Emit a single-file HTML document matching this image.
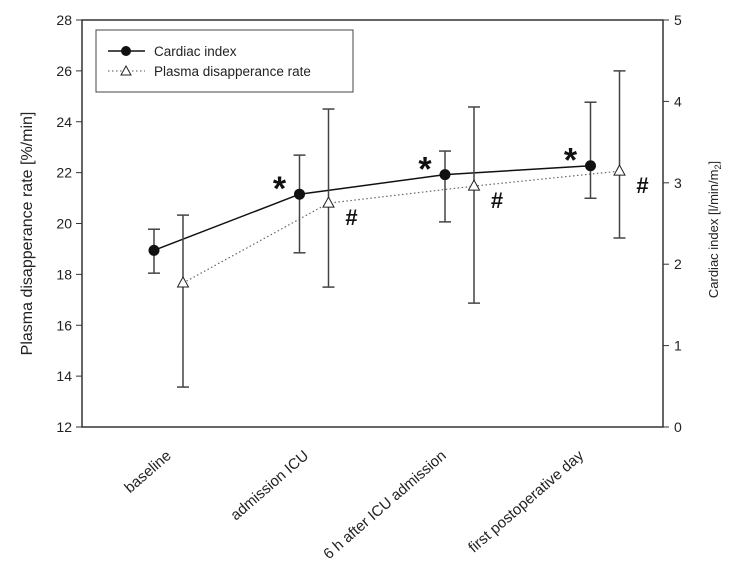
<!DOCTYPE html>
<html><head><meta charset="utf-8"><style>
body{margin:0;background:#fff}
svg{display:block;font-family:"Liberation Sans",Arial,sans-serif}
</style></head><body>
<svg id="chart" width="738" height="573" viewBox="0 0 738 573">
<g id="axes"></g>
<g id="marks"></g>
<g>
<rect x="96" y="30" width="257" height="62" fill="#fff" stroke="#444" stroke-width="1"/>
<line x1="108" y1="51" x2="145" y2="51" stroke="#111" stroke-width="1.5"/>
<circle cx="126" cy="51" r="5" fill="#111"/>
<text x="154" y="56" font-size="13.5" fill="#222">Cardiac index</text>
<line x1="108" y1="71" x2="145" y2="71" stroke="#555" stroke-width="1" stroke-dasharray="1.5,2.5"/>
<path d="M126,66 L131,75 L121,75 Z" fill="#fff" stroke="#222"/>
<text x="154" y="76" font-size="13.5" fill="#222">Plasma disapperance rate</text>
</g>
</svg>
<script>
const categories=["baseline","admission ICU","6 h after ICU admission","first postoperative day"];
const ciValues=[2.17,2.86,3.10,3.21];
const ciUpper=[2.43,3.34,3.39,3.99];
const ciLower=[1.89,2.14,2.52,2.81];
const pdrValues=[17.66,20.8,21.47,22.06];
const pdrUpper=[20.33,24.5,24.58,26.0];
const pdrLower=[13.57,17.5,16.87,19.43];
const leftTicks=[12,14,16,18,20,22,24,26,28];
const rightTicks=[0,1,2,3,4,5];
const NS="http://www.w3.org/2000/svg";
const L=82,R=663,T=20,B=427;
const yL=v=>B-(v-12)/16*(B-T);
const yR=v=>B-v/5*(B-T);
const xC=i=>168+i*145.5;
function mk(p,tag,a){const e=document.createElementNS(NS,tag);for(const k in a)e.setAttribute(k,a[k]);p.appendChild(e);return e;}
const ax=document.getElementById('axes'),mg=document.getElementById('marks');
let e;
e=mk(ax,'path',{d:`M${L},${T} L${L},${B} L${R},${B} L${R},${T} Z`,fill:'none',stroke:'#333','stroke-width':1.5});

leftTicks.forEach(v=>{const y=yL(v);mk(ax,'line',{x1:L-6,y1:y,x2:L,y2:y,stroke:'#333'});
 e=mk(ax,'text',{x:L-10,y:y+5,'text-anchor':'end','font-size':14,fill:'#222'});e.textContent=v;
 });
rightTicks.forEach(v=>{const y=yR(v);mk(ax,'line',{x1:R,y1:y,x2:R+6,y2:y,stroke:'#333'});
 e=mk(ax,'text',{x:R+11,y:y+5,'font-size':14,fill:'#222'});e.textContent=v;
 });
e=mk(ax,'text',{transform:`translate(32,${(T+B)/2+10}) rotate(-90)`,'text-anchor':'middle','font-size':16,fill:'#222'});
e.textContent='Plasma disapperance rate [%/min]';

e=mk(ax,'text',{transform:`translate(718,${(T+B)/2+6}) rotate(-90)`,'text-anchor':'middle','font-size':13,fill:'#222'});
e.innerHTML='Cardiac index [l/min/m<tspan font-size="9" dy="3">2</tspan><tspan dy="-3">]</tspan>';

categories.forEach((c,i)=>{const x=xC(i)+4-i*8,y=457;
 e=mk(ax,'text',{transform:`translate(${x},${y}) rotate(-41)`,'text-anchor':'end','font-size':15,fill:'#222'});e.textContent=c;
 });
function errbar(x,y1,y2,name){const g=mk(mg,'g',{stroke:'#444','stroke-width':1.5});
 mk(g,'line',{x1:x,y1:y1,x2:x,y2:y2});mk(g,'line',{x1:x-6,y1:y1,x2:x+6,y2:y1});mk(g,'line',{x1:x-6,y1:y2,x2:x+6,y2:y2});
 }
const xci=i=>xC(i)-14,xp=i=>xC(i)+15;
e=mk(mg,'polyline',{points:pdrValues.map((v,i)=>xp(i)+','+yL(v)).join(' '),fill:'none',stroke:'#666','stroke-width':1.2,'stroke-dasharray':'1.5,2.5'});

e=mk(mg,'polyline',{points:ciValues.map((v,i)=>xci(i)+','+yR(v)).join(' '),fill:'none',stroke:'#111','stroke-width':1.5});

categories.forEach((c,i)=>{
 errbar(xci(i),yR(ciUpper[i]),yR(ciLower[i]),'cardiac-errorbar');
 errbar(xp(i),yL(pdrUpper[i]),yL(pdrLower[i]),'plasma-errorbar');
 e=mk(mg,'circle',{cx:xci(i),cy:yR(ciValues[i]),r:5.5,fill:'#111'});
 
 const x=xp(i),y=yL(pdrValues[i]);
 e=mk(mg,'path',{d:`M${x},${y-6} L${x+5.5},${y+4} L${x-5.5},${y+4} Z`,fill:'#fff',stroke:'#222'});
 
 if(i>0){
  e=mk(mg,'text',{x:xci(i)-20,y:yR(ciValues[i])+6,'text-anchor':'middle','font-size':34,'font-weight':'bold',fill:'#111'});e.textContent='*';
  
  e=mk(mg,'text',{x:xp(i)+23,y:yL(pdrValues[i])+22,'text-anchor':'middle','font-size':22,'font-weight':'bold',fill:'#111'});e.textContent='#';
  
 }
});
</script>
</body></html>
